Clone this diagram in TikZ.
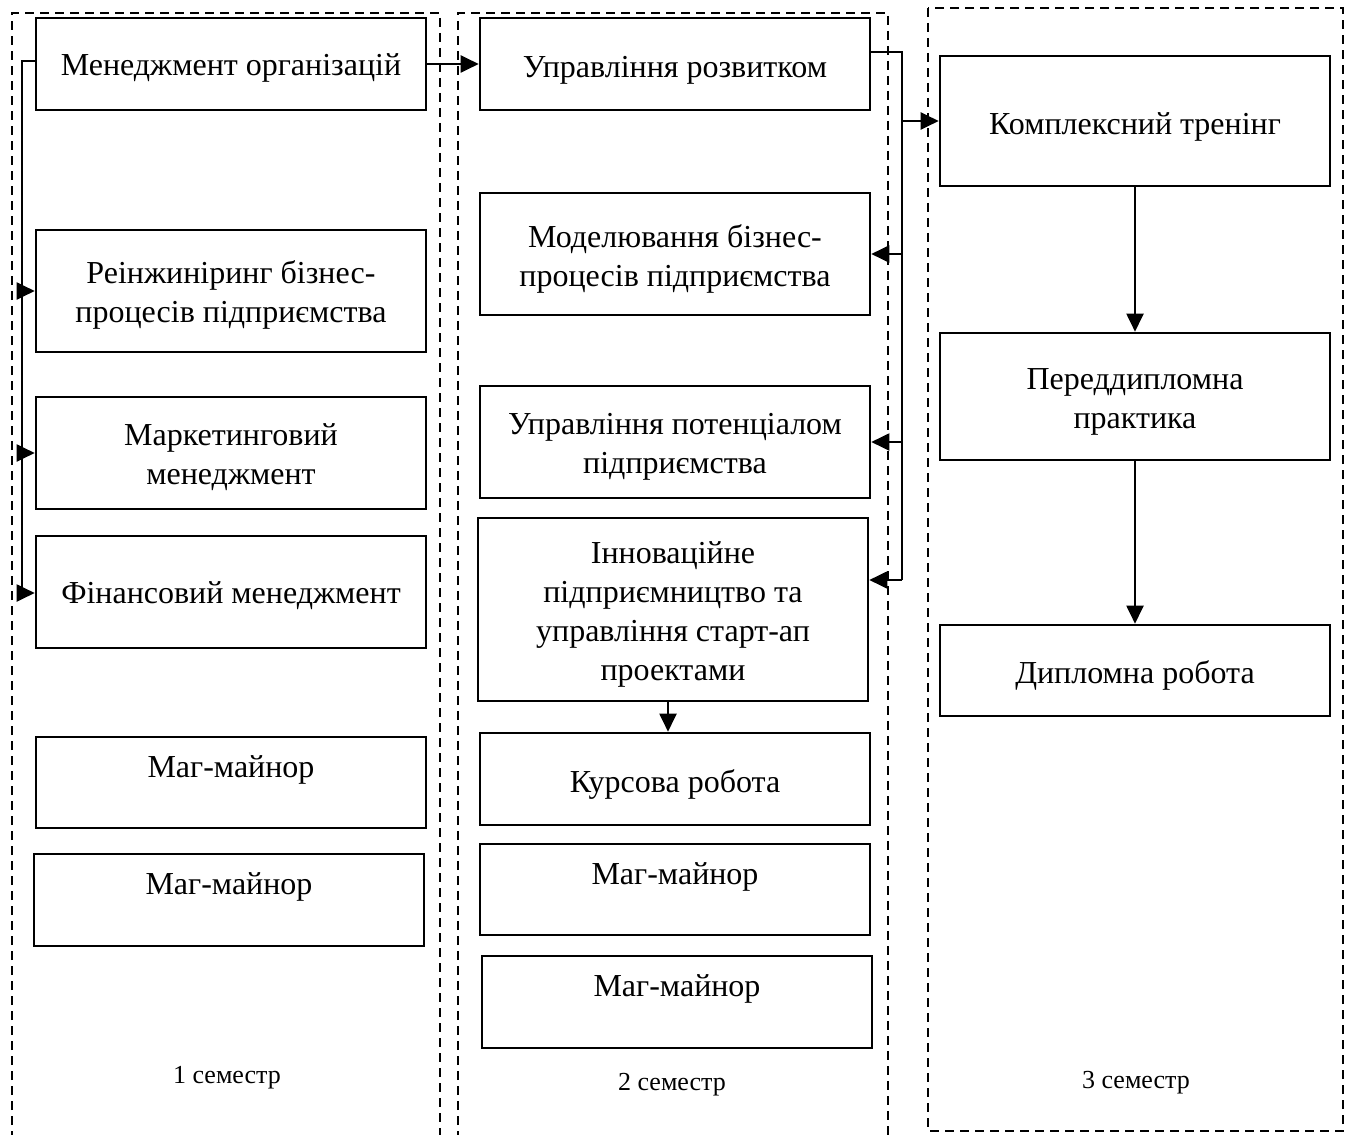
\documentclass[tikz,border=0pt]{standalone}
\usepackage{fontspec}
\setmainfont{Liberation Serif}
\usetikzlibrary{arrows.meta}
\begin{document}
\begin{tikzpicture}[x=0.5pt,y=-0.5pt,
  box/.style={draw, line width=1.3pt, minimum width=195pt, inner sep=0pt},
  txt/.style={inner sep=0pt, align=center, font=\fontsize{16}{19.5}\selectfont},
  sem/.style={inner sep=0pt, font=\fontsize{13}{15}\selectfont},
  frame/.style={line width=1.3pt, dash pattern=on 4.5pt off 3pt},
  conn/.style={line width=1pt},
  arr/.style={line width=1pt, -{Triangle[length=9pt,width=8.5pt]}}]
\useasboundingbox (0,0) rectangle (1353,1134);
% semester frames
\draw[frame] (12,1140) -- (12,13) -- (440,13) -- (440,1140);
\draw[frame] (458,1140) -- (458,13) -- (888,13) -- (888,1140);
\draw[frame] (928,8) rectangle (1343,1131);
% column 1
\node[box, minimum height=46pt] (m1) at (231,64) {};
\node[txt] (m1t) at ([yshift=-2pt]m1) {Менеджмент організацій};
\node[box, minimum height=61pt] (m2) at (231,291) {};
\node[txt] (m2t) at ([yshift=-2pt]m2) {Реінжиніринг бізнес-\\процесів підприємства};
\node[box, minimum height=56pt] (m3) at (231,453) {};
\node[txt] (m3t) at ([yshift=-2pt]m3) {Маркетинговий\\менеджмент};
\node[box, minimum height=56pt] (m4) at (231,592) {};
\node[txt] (m4t) at ([yshift=-2pt]m4) {Фінансовий менеджмент};
\node[box, minimum height=45.5pt] (m5) at (231,782.5) {};
\node[txt] (m5t) at (231,770) {Маг-майнор};
\node[box, minimum height=46pt] (m6) at (229,900) {};
\node[txt] (m6t) at (229,887) {Маг-майнор};
% column 2
\node[box, minimum height=46pt] (r1) at (675,64) {};
\node[txt] (r1t) at ([yshift=-3pt]r1) {Управління розвитком};
\node[box, minimum height=61pt] (r2) at (675,254) {};
\node[txt] (r2t) at ([yshift=-2.5pt]r2) {Моделювання бізнес-\\процесів підприємства};
\node[box, minimum height=56pt] (r3) at (675,442) {};
\node[txt] (r3t) at ([yshift=-2.5pt]r3) {Управління потенціалом\\підприємства};
\node[box, minimum height=91.5pt] (r4) at (673,609.5) {};
\node[txt] (r4t) at ([yshift=-2.5pt]r4) {Інноваційне\\підприємництво та\\управління старт-ап\\проектами};
\node[box, minimum height=46pt] (r5) at (675,779) {};
\node[txt] (r5t) at ([yshift=-2.5pt]r5) {Курсова робота};
\node[box, minimum height=45.5pt] (r6) at (675,889.5) {};
\node[txt] (r6t) at (675,877) {Маг-майнор};
\node[box, minimum height=46pt] (r7) at (677,1002) {};
\node[txt] (r7t) at (677,989) {Маг-майнор};
% column 3
\node[box, minimum height=65pt] (t1) at (1135,121) {};
\node[txt] (t1t) at ([yshift=-3pt]t1) {Комплексний тренінг};
\node[box, minimum height=63.5pt] (t2) at (1135,396.5) {};
\node[txt] (t2t) at ([yshift=-2.5pt]t2) {Переддипломна\\практика};
\node[box, minimum height=45.5pt] (t3) at (1135,670.5) {};
\node[txt] (t3t) at ([yshift=-2.5pt]t3) {Дипломна робота};
% semester labels
\node[sem] (s1) at (227,1078) {1 семестр};
\node[sem] (s2) at (672,1085) {2 семестр};
\node[sem] (s3) at (1136,1083) {3 семестр};
% connectors column 1
\coordinate (L1) at (22,61);
\coordinate (L2) at (22,593);
\draw[conn] ([yshift=1.5pt]m1.west) -- (L1) -- (L2);
\draw[arr] (L1 |- m2.west) -- (m2.west);
\draw[arr] (L1 |- m3.west) -- (m3.west);
\draw[arr] (L2) -- (L2 -| m4.west);
% column 1 to column 2
\draw[arr] (m1.east) -- (r1.west);
% connectors column 2
\coordinate (R1) at (902,52);
\coordinate (R2) at (902,580);
\draw[conn] ([yshift=6pt]r1.east) -- (R1) -- (R2);
\draw[arr] (R1 |- t1.west) -- (t1.west);
\draw[arr] (R1 |- r2.east) -- (r2.east);
\draw[arr] (R1 |- r3.east) -- (r3.east);
\draw[arr] (R2) -- (R2 -| r4.east);
\draw[arr] ([xshift=-2.5pt]r4.south) -- ([xshift=-2.5pt]r4.south |- r5.north);
% connectors column 3
\draw[arr] (t1.south) -- (t2.north);
\draw[arr] (t2.south) -- (t3.north);
\end{tikzpicture}
\end{document}
